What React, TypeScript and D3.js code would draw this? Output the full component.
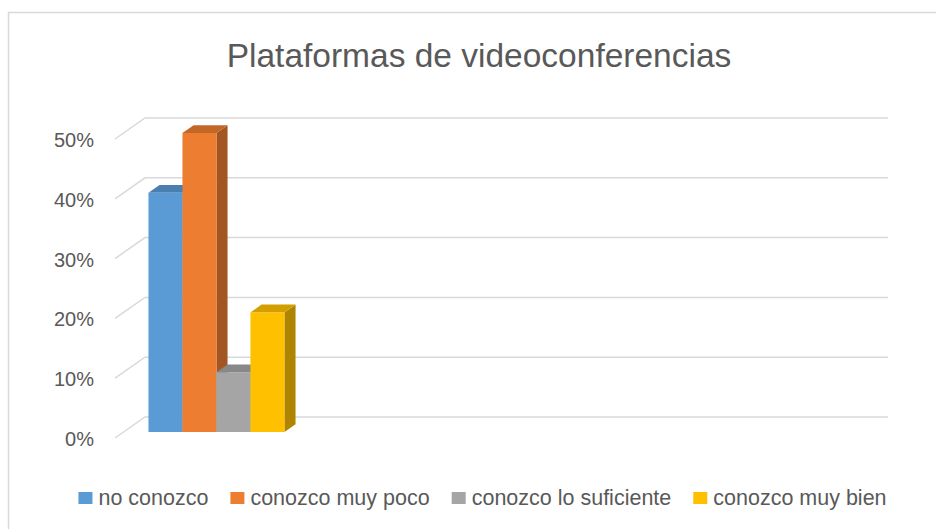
import * as React from "react";
import * as d3 from "d3";

// one real category, three empty slots (Excel reserves the space)
const categories = ["Plataformas de videoconferencias", "vacío 2", "vacío 3", "vacío 4"];
const seriesNames = ["no conozco", "conozco muy poco", "conozco lo suficiente", "conozco muy bien"];
const noConozco = [0.4, null, null, null];
const conozcoMuyPoco = [0.5, null, null, null];
const conozcoLoSuficiente = [0.1, null, null, null];
const conozcoMuyBien = [0.2, null, null, null];
const seriesColors = ["#5B9BD5", "#ED7D31", "#A5A5A5", "#FFC000"];
const yTicks = [0, 0.1, 0.2, 0.3, 0.4, 0.5];

const W = 936;
const H = 529;
const FONT = "'Liberation Sans', Arial, sans-serif";
const TEXT = "#595959";
const GRID = "#D9D9D9";

// depth vector of the floor (back wall -> front edge is minus this)
const depth: [number, number] = [30, -21];
const frontAt = 0.714; // bar front plane, as fraction of depth toward viewer
const barDepth = 0.37;

function measure(text: string, size: number) {
  const ctx = document.createElement("canvas").getContext("2d")!;
  ctx.font = `${size}px ${FONT}`;
  return ctx.measureText(text).width;
}

export default function App() {
  const series = [noConozco, conozcoMuyPoco, conozcoLoSuficiente, conozcoMuyBien];

  const y = d3.scaleLinear().domain([0, 0.5]).range([417, 118]);
  const x = d3.scaleBand().domain(categories).range([145, 888]).paddingInner(0.268).paddingOuter(0.134);
  const xs = d3.scaleBand().domain(seriesNames).range([0, x.bandwidth()]);

  const fdx = -depth[0] * frontAt;
  const fdy = -depth[1] * frontAt;
  const bdx = depth[0] * barDepth;
  const bdy = depth[1] * barDepth;

  const grid = yTicks.map(t => {
    const yy = y(t);
    return <g key={t}>
      <polyline points={`${145 - depth[0]},${yy - depth[1]} 145,${yy} 888,${yy}`}
        fill="none" stroke={GRID} strokeWidth={1.5} />
      <text x={94} y={yy - depth[1] + 1} textAnchor="end" dominantBaseline="central"
        fontSize={20} fill={TEXT} fontFamily={FONT}>{d3.format(".0%")(t)}</text>
    </g>;
  });

  const bars: React.ReactNode[] = [];
  categories.forEach((c, ci) => {
    series.forEach((vals, si) => {
      const v = vals[ci];
      if (v == null) return;
      const x0 = (x(c) as number) + (xs(seriesNames[si]) as number) + fdx;
      const x1 = x0 + xs.bandwidth();
      const yb = y(0) + fdy;
      const yt = y(v) + fdy;
      const col = d3.color(seriesColors[si])!;
      const top = col.darker(0.55).formatHex();
      const side = col.darker(1.05).formatHex();
      bars.push(<g key={`${ci}-${si}`}>
        <polygon points={`${x1},${yb} ${x1 + bdx},${yb + bdy} ${x1 + bdx},${yt + bdy} ${x1},${yt}`} fill={side} />
        <polygon points={`${x0},${yt} ${x0 + bdx},${yt + bdy} ${x1 + bdx},${yt + bdy} ${x1},${yt}`} fill={top} />
        <rect x={x0} y={yt} width={x1 - x0} height={yb - yt} fill={seriesColors[si]} />
      </g>);
    });
  });

  // legend, centred under the plot
  const legendSize = 21.5;
  const sq = 14;
  const sqGap = 6;
  const itemGap = 22;
  const widths = seriesNames.map(s => measure(s, legendSize));
  const total = d3.sum(widths) + seriesNames.length * (sq + sqGap) + itemGap * (seriesNames.length - 1);
  let lx = 482.5 - total / 2;
  const legend = seriesNames.map((s, i) => {
    const gx = lx;
    lx += sq + sqGap + widths[i] + itemGap;
    return <g key={s} transform={`translate(${gx},0)`}>
      <rect x={0} y={492} width={sq} height={12} fill={seriesColors[i]} />
      <text x={sq + sqGap} y={505} fontSize={legendSize} fill={TEXT} fontFamily={FONT}>{s}</text>
    </g>;
  });

  return <svg width={W} height={H} style={{ position: "absolute", left: 0, top: 0, background: "#fff" }}>
    <rect x={0} y={0} width={W} height={H} fill="#fff" />
    <rect x={8.5} y={12.5} width={W} height={H} fill="none" stroke={GRID} strokeWidth={1.5} />
    <text x={479} y={67} textAnchor="middle" fontSize={33.5} fill={TEXT} fontFamily={FONT}>
      Plataformas de videoconferencias
    </text>
    {grid}
    {bars}
    {legend}
  </svg>;
}
